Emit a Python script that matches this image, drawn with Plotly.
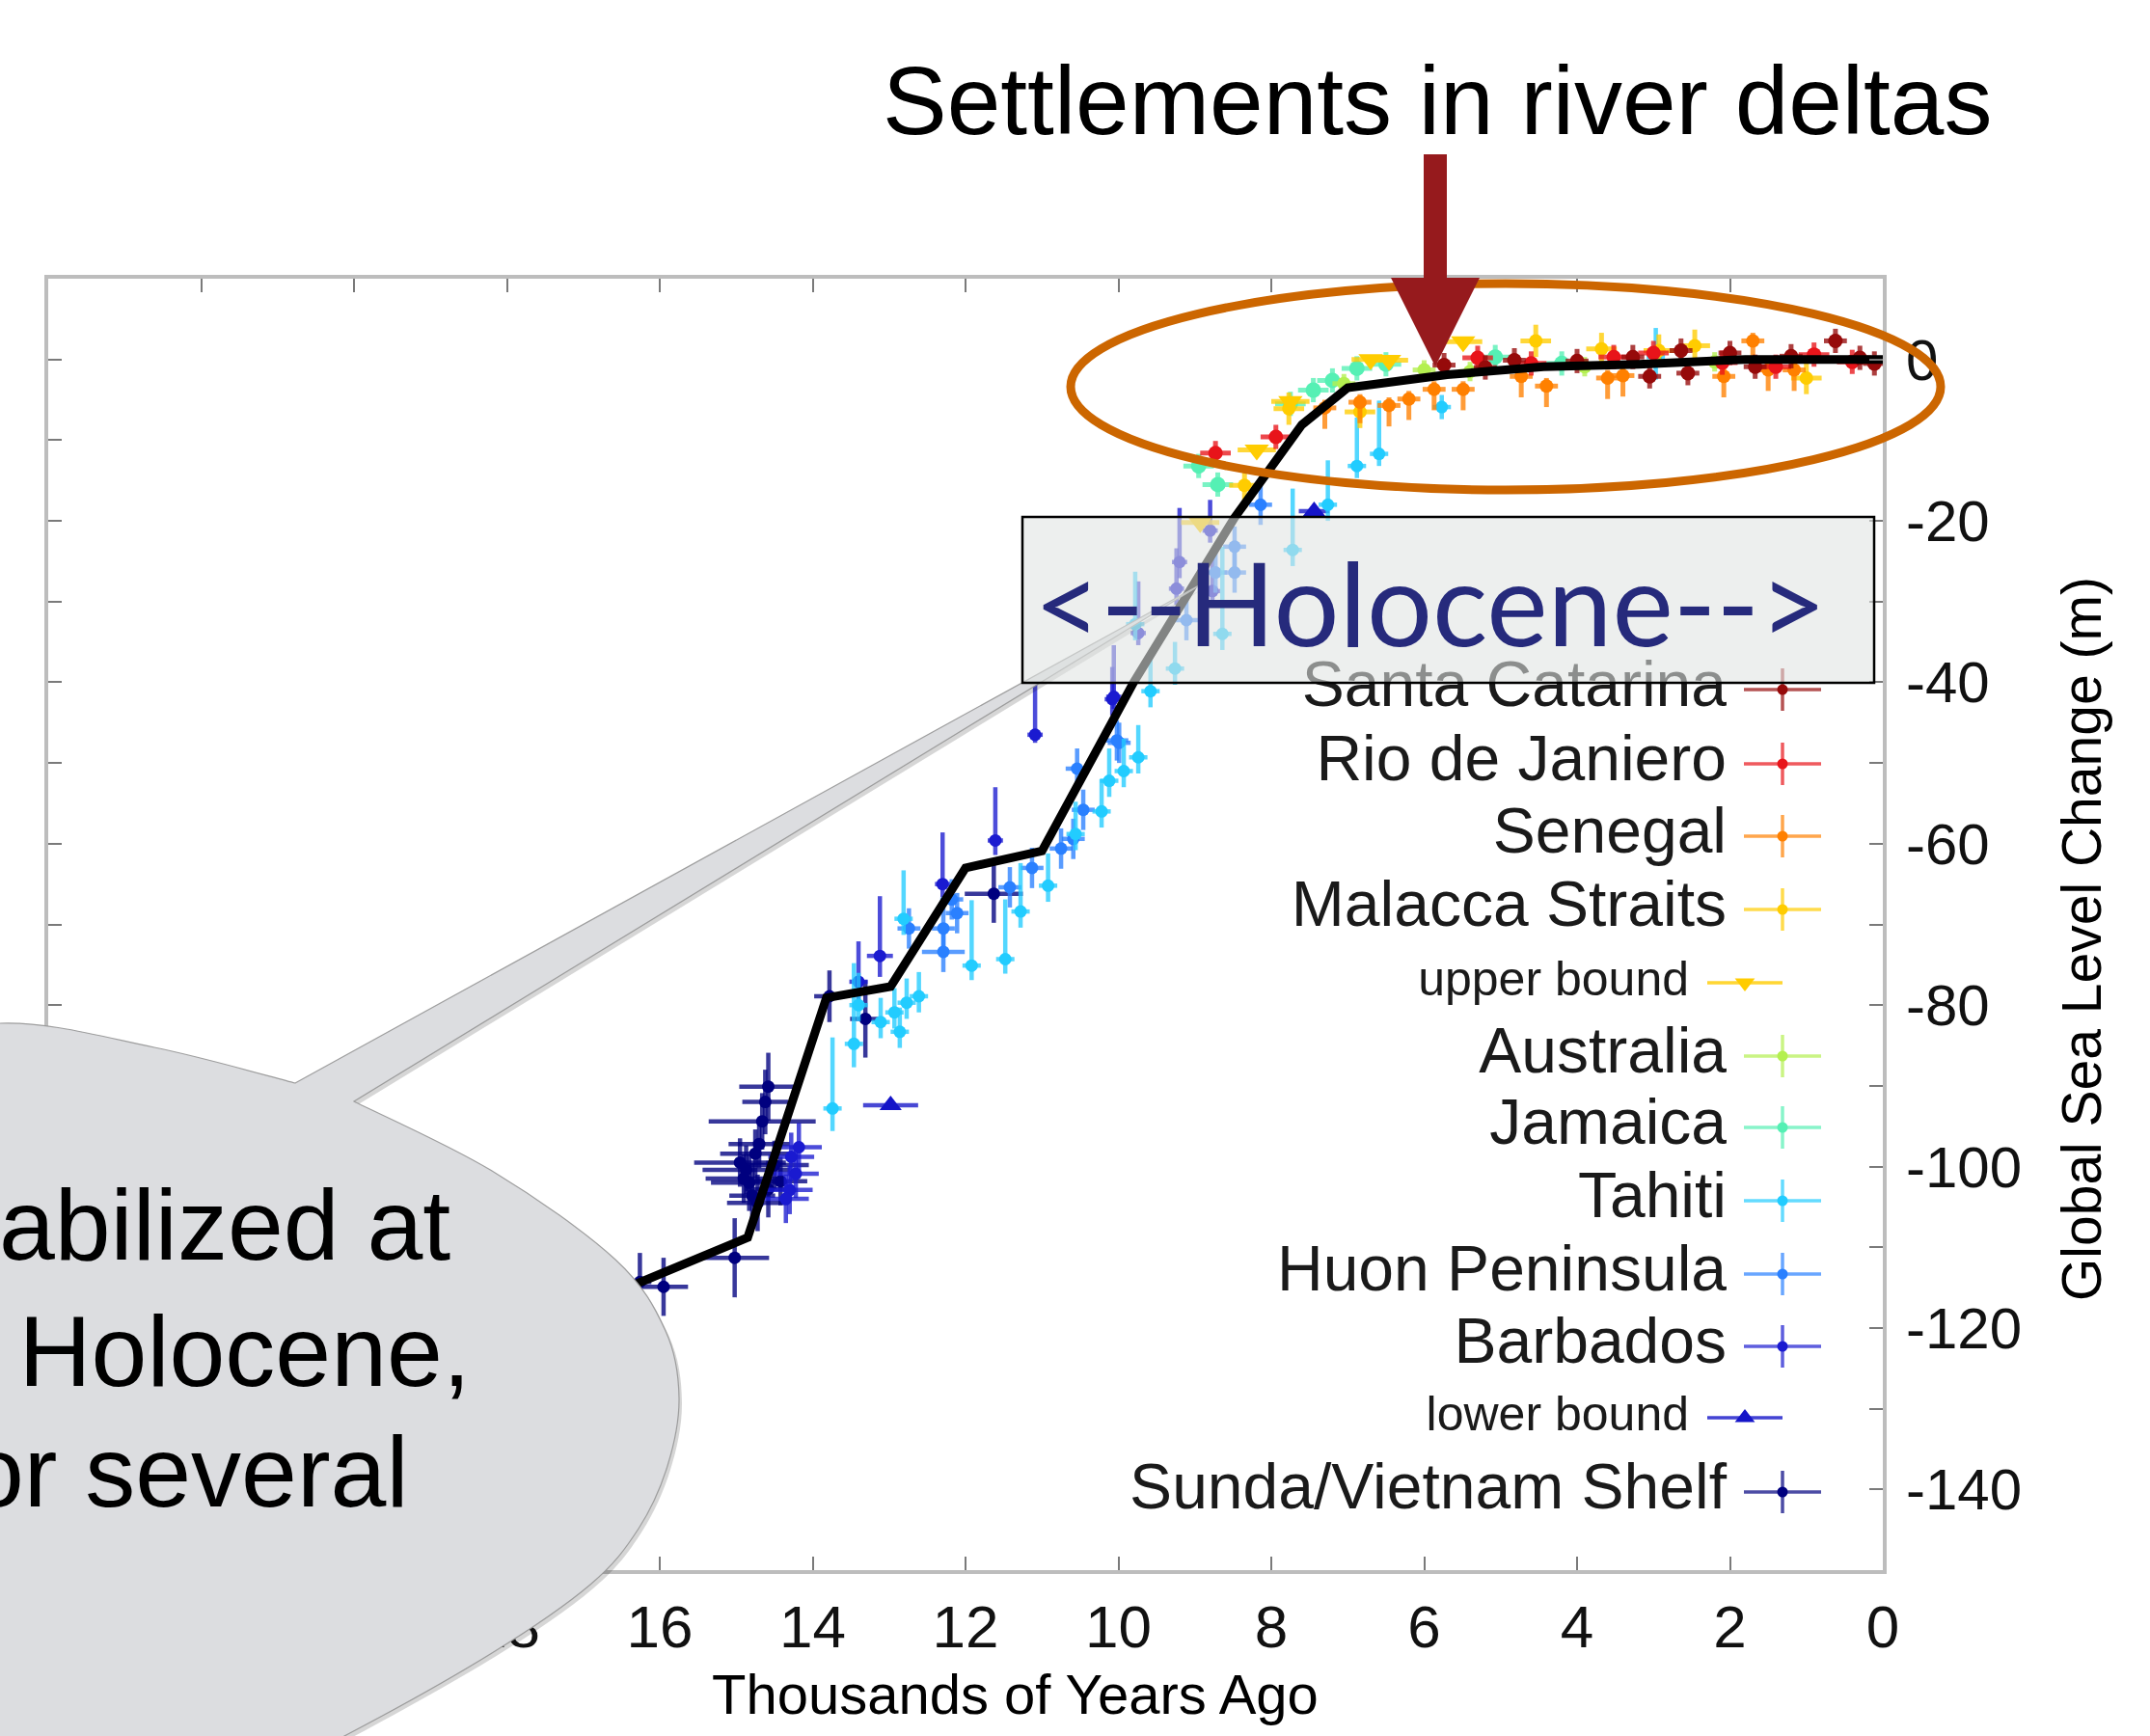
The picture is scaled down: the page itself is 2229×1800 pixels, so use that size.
import plotly.graph_objects as go

W, H = 2229, 1800
FONT = "Liberation Sans, Arial, Helvetica, sans-serif"

# ---------------- data ----------------
curve_kyr = [24.0, 22.0, 20.0, 18.0, 16.35, 14.85, 13.82, 12.98, 12.0, 11.0, 9.8, 8.48, 7.6, 7.0, 5.7, 4.44, 3.2, 1.8, 0.0]
curve_m = [-121, -121, -120, -118, -114.7, -108.8, -79.1, -77.7, -63.0, -60.9, -40.0, -19.6, -8.1, -3.5, -1.9, -0.9, -0.6, 0.0, 0.0]

sunda_x = [16.26, 15.95, 15.02, 14.58, 14.66, 14.75, 14.87, 14.83, 14.79, 14.62, 14.70, 14.58, 13.78, 13.31, 11.63,
           14.95, 14.90, 14.72, 14.50, 14.42]
sunda_y = [-114.3, -114.9, -111.3, -90.1, -94.4, -98.4, -100.4, -102.0, -103.6, -92.0, -97.2, -102.8, -78.9, -81.7, -66.2,
           -99.5, -101.5, -104.5, -99.8, -101.8]
sunda_ex = [0.15, 0.32, 0.45, 0.38, 0.7, 0.46, 0.57, 0.5, 0.3, 0.3, 0.4, 0.3, 0.2, 0.2, 0.38,
            0.6, 0.5, 0.4, 0.45, 0.35]
sunda_ey = [3.6, 3.6, 4.9, 4.2, 3.5, 3.0, 3.0, 3.5, 4.0, 4.0, 3.0, 3.5, 3.2, 4.8, 3.6,
            3.0, 3.0, 3.5, 3.0, 3.0]

barb_x = [14.28, 14.22, 14.30, 13.40, 13.12, 12.30, 11.61, 11.09, 10.08, 10.06, 9.74, 9.24, 9.20, 8.77, 8.80, 14.18, 14.35]
barb_y = [-98.8, -100.9, -102.9, -77.1, -73.9, -65.0, -59.6, -46.5, -42.1, -41.8, -33.9, -28.4, -25.1, -28.7, -21.2, -97.6, -104.0]
barb_ex = [0.3, 0.3, 0.3, 0.12, 0.17, 0.1, 0.1, 0.1, 0.1, 0.1, 0.1, 0.1, 0.1, 0.1, 0.1, 0.3, 0.3]
barb_eyp = [3, 3, 3, 5, 7.4, 6.4, 6.6, 6.2, 4, 6.4, 6.4, 5, 6.7, 4, 3.8, 3, 3]
barb_eym = [3, 3, 3, 3, 2.6, 1.6, 1.8, 1.0, 2, 1.5, 1.5, 2, 2, 2, 1.5, 3, 3]

huon_x = [12.29, 12.29, 12.18, 12.11, 12.74, 11.42, 11.13, 10.75, 10.59, 10.46, 10.54, 10.02, 9.99, 9.11, 8.73, 8.48, 8.48, 8.14]
huon_y = [-73.4, -70.5, -66.9, -68.6, -70.5, -65.4, -63.0, -60.6, -59.4, -55.8, -50.7, -47.2, -47.5, -32.3, -26.4, -26.4, -23.2, -18.0]
huon_ex = [0.28, 0.15, 0.15, 0.15, 0.15, 0.15, 0.15, 0.15, 0.15, 0.15, 0.15, 0.15, 0.15, 0.15, 0.15, 0.15, 0.15, 0.15]
huon_ey = [2.5] * 18

tahiti_x = [13.74, 13.46, 13.40, 13.11, 12.93, 12.86, 12.77, 12.61, 12.81, 11.92, 11.48, 11.28, 10.92, 10.56, 10.22, 10.12, 9.93, 9.74, 9.58, 9.26, 9.78, 8.64, 7.72, 7.26, 6.88, 6.59, 5.77, 2.97]
tahiti_y = [-92.8, -84.8, -80.0, -82.1, -80.9, -83.3, -79.7, -78.9, -69.3, -75.1, -74.3, -68.4, -65.2, -58.8, -56.0, -52.2, -51.0, -49.3, -41.1, -38.3, -32.8, -34.0, -23.6, -18.0, -13.2, -11.7, -5.9, 0.3]
tahiti_eyp = [8.8, 10, 4, 3, 3, 3, 3, 3, 6, 8.1, 7.4, 6, 4, 4, 4, 4, 4, 4, 5, 3.3, 6.5, 10.8, 7.6, 5.5, 6.0, 6.6, 1.5, 3.6]
tahiti_eym = [2.8, 2.9, 2, 2, 2, 2, 2, 2, 2, 1.8, 1.8, 2, 2, 2, 2, 2, 2, 2, 2, 2, 2, 2, 2, 2, 1.5, 1.5, 1.5, 2.8]
tahiti_ex = [0.12] * 28

jam_x = [8.95, 8.70, 7.75, 7.45, 7.20, 6.88, 6.50, 5.07, 4.20]
jam_y = [-13.2, -15.5, -5.5, -3.8, -2.6, -1.1, -0.6, 0.3, -0.5]

aus_x = [7.05, 6.00, 5.40, 3.90, 2.20]
aus_y = [-3.0, -1.3, -1.5, -0.9, -0.3]

mal_x = [8.35, 7.77, 6.84, 4.54, 3.68, 2.93, 2.46, 1.00]
mal_y = [-15.6, -6.1, -6.5, 2.3, 1.3, 1.1, 1.7, -2.3]

ub_x = [8.93, 8.19, 7.75, 6.70, 6.46, 5.49]
ub_y = [-20.2, -11.2, -5.2, 0.0, -0.1, 2.2]

lb_x = [12.98, 7.44]
lb_y = [-92.4, -18.8]
lb_ex = [0.36, 0.2]

sen_x = [7.30, 6.84, 6.46, 6.20, 5.87, 5.49, 4.73, 4.40, 3.60, 3.40, 2.08, 1.70, 1.50, 1.16]
sen_y = [-6.0, -5.3, -5.7, -4.9, -3.7, -3.7, -2.1, -3.3, -2.3, -2.0, -2.1, 2.3, -1.3, -1.3]

sc_x = [5.74, 5.20, 4.82, 4.00, 3.27, 3.05, 2.64, 2.55, 2.00, 1.67, 1.20, 0.62, 0.30, 0.11]
sc_y = [-0.7, -1.0, -0.1, -0.2, 0.3, -2.1, 1.1, -1.7, 0.8, -0.9, 0.4, 2.3, 0.2, -0.5]

rio_x = [8.73, 7.94, 5.30, 4.60, 3.52, 3.00, 2.10, 1.40, 0.90, 0.40]
rio_y = [-11.6, -9.6, 0.2, -0.5, 0.3, 0.8, -0.4, -0.9, 0.6, -0.3]

x_ticks = list(range(0, 25, 2))
y_ticks = list(range(-150, 11, 10))
y_labels = [("%d" % v) if (v % 20 == 0 and -140 <= v <= 0) else "" for v in y_ticks]

legend_names = ["Santa Catarina", "Rio de Janiero", "Senegal", "Malacca Straits", "upper bound", "Australia",
                "Jamaica", "Tahiti", "Huon Peninsula", "Barbados", "lower bound", "Sunda/Vietnam Shelf"]
legend_colors = ["#960a0a", "#e8141a", "#ff8000", "#ffcc00", "#ffcc00", "#b4f050",
                 "#55f0b4", "#22ccff", "#2a80ff", "#1a1ad0", "#1414c8", "#00007f"]

# ---------------- helpers ----------------
def rgba(hexc, a):
    h = hexc.lstrip('#')
    return "rgba(%d,%d,%d,%.2f)" % (int(h[0:2], 16), int(h[2:4], 16), int(h[4:6], 16), a)

COL = dict(zip(legend_names, legend_colors))

fig = go.Figure()

def add_series(name, xs, ys, ex, eyp, eym, symbol="circle", size=13, thick=4.5):
    c = COL[name]
    n = len(xs)
    if not isinstance(ex, list):
        ex = [ex] * n
    if not isinstance(eyp, list):
        eyp = [eyp] * n
    if not isinstance(eym, list):
        eym = [eym] * n
    fig.add_trace(go.Scatter(
        x=xs, y=ys, mode="markers", name=name, showlegend=False,
        marker=dict(color=c, size=size, symbol=symbol, line=dict(width=0)),
        error_x=dict(type="data", array=ex, color=rgba(c, 0.78), thickness=thick, width=0),
        error_y=dict(type="data", array=eyp, arrayminus=eym, symmetric=False,
                     color=rgba(c, 0.78), thickness=thick, width=0),
        xaxis="x", yaxis="y"))

add_series("Sunda/Vietnam Shelf", sunda_x, sunda_y, sunda_ex, sunda_ey, sunda_ey)
add_series("lower bound", lb_x, lb_y, lb_ex, 0, 0, symbol="triangle-up", size=20)
add_series("Barbados", barb_x, barb_y, barb_ex, barb_eyp, barb_eym)
add_series("Huon Peninsula", huon_x, huon_y, huon_ex, huon_ey, huon_ey)
add_series("Tahiti", tahiti_x, tahiti_y, tahiti_ex, tahiti_eyp, tahiti_eym)
add_series("Jamaica", jam_x, jam_y, 0.2, 1.5, 1.5, size=16, thick=5)
add_series("Australia", aus_x, aus_y, 0.15, 1.2, 1.2, size=14, thick=5)
add_series("upper bound", ub_x, ub_y, 0.25, 0, 0, symbol="triangle-down", size=22, thick=5)
add_series("Malacca Straits", mal_x, mal_y, 0.2, 2.0, 2.0, size=14, thick=5)
add_series("Senegal", sen_x, sen_y, 0.15, 1.0, 2.6, size=14, thick=5)
add_series("Rio de Janiero", rio_x, rio_y, 0.2, 1.5, 1.5, size=15, thick=5)
add_series("Santa Catarina", sc_x, sc_y, 0.15, 1.5, 1.5, size=15, thick=5)

fig.add_trace(go.Scatter(x=curve_kyr, y=curve_m, mode="lines", showlegend=False,
                         line=dict(color="black", width=9), xaxis="x", yaxis="y"))

# ---------------- manual legend (pixel overlay axes) ----------------
legend_y = [715, 792, 867, 943, 1019, 1095, 1169, 1245, 1321, 1396, 1470, 1547]
is_bound = [n.endswith("bound") for n in legend_names]
text_x = [1751 if b else 1790 for b in is_bound]
fig.add_trace(go.Scatter(
    x=text_x, y=legend_y, mode="text", text=legend_names, textposition="middle left",
    textfont=dict(family=FONT, size=[50 if b else 66 for b in is_bound], color="#1a1a1a"),
    showlegend=False, xaxis="x2", yaxis="y2", cliponaxis=False, hoverinfo="skip"))
for name, yy, b in zip(legend_names, legend_y, is_bound):
    c = COL[name]
    if b:
        sym = "triangle-down" if name.startswith("upper") else "triangle-up"
        fig.add_trace(go.Scatter(
            x=[1809], y=[yy], mode="markers", showlegend=False, xaxis="x2", yaxis="y2",
            marker=dict(color=c, size=18, symbol=sym),
            error_x=dict(type="data", array=[39], color=rgba(c, 0.8), thickness=3.5, width=0)))
    else:
        fig.add_trace(go.Scatter(
            x=[1848], y=[yy], mode="markers", showlegend=False, xaxis="x2", yaxis="y2",
            marker=dict(color=c, size=11),
            error_x=dict(type="data", array=[40], color=rgba(c, 0.7), thickness=3.5, width=0),
            error_y=dict(type="data", array=[22], color=rgba(c, 0.7), thickness=3.5, width=0)))

# ---------------- shapes ----------------
def catmull(pts):
    out = ""
    n = len(pts)
    for i in range(n - 1):
        p0 = pts[i - 1] if i > 0 else pts[i]
        p1 = pts[i]
        p2 = pts[i + 1]
        p3 = pts[i + 2] if i + 2 < n else pts[i + 1]
        c1 = (p1[0] + (p2[0] - p0[0]) / 6.0, p1[1] + (p2[1] - p0[1]) / 6.0)
        c2 = (p2[0] - (p3[0] - p1[0]) / 6.0, p2[1] - (p3[1] - p1[1]) / 6.0)
        out += " C%.1f,%.1f %.1f,%.1f %.1f,%.1f" % (c1[0], c1[1], c2[0], c2[1], p2[0], p2[1])
    return out

def bubble_path(dx=0, dy=0):
    body = [(367, 1142), (510, 1214), (638, 1306), (690, 1380), (704, 1450), (692, 1520),
            (662, 1585), (612, 1643), (510, 1714), (357, 1800), (250, 1850)]
    top = [(-300, 1220), (-140, 1098), (0, 1061), (160, 1086), (306, 1123)]
    body = [(x + dx, y + dy) for x, y in body]
    top = [(x + dx, y + dy) for x, y in top]
    p = "M%.1f,%.1f L%.1f,%.1f L%.1f,%.1f" % (306 + dx, 1123 + dy, 1252 + dx, 602 + dy, 367 + dx, 1142 + dy)
    p += catmull(body)
    p += " L%.1f,%.1f L%.1f,%.1f" % (-300 + dx, 1900 + dy, -300 + dx, 1220 + dy)
    p += catmull(top)
    p += " Z"
    return p

shapes = [
    dict(type="path", path=bubble_path(3, 4), xref="x2", yref="y2", layer="above",
         fillcolor="rgba(0,0,0,0.16)", line=dict(width=0)),
    dict(type="path", path=bubble_path(), xref="x2", yref="y2", layer="above",
         fillcolor="#dcdde0", line=dict(color="rgba(150,150,150,0.9)", width=1.2)),
    dict(type="rect", x0=1060, x1=1943, y0=536, y1=708, xref="x2", yref="y2", layer="above",
         fillcolor="rgba(224,227,225,0.58)", line=dict(color="black", width=2.5)),
    dict(type="circle", x0=1110, x1=2012, y0=294, y1=508, xref="x2", yref="y2", layer="above",
         line=dict(color="#cc6600", width=9), fillcolor="rgba(0,0,0,0)"),
    dict(type="rect", x0=1476, x1=1500, y0=160, y1=292, xref="x2", yref="y2", layer="above",
         fillcolor="#961a1d", line=dict(width=0)),
    dict(type="path", path="M1442,288 L1534,288 L1488,380 Z", xref="x2", yref="y2", layer="above",
         fillcolor="#961a1d", line=dict(width=0)),
]

# ---------------- annotations ----------------
def ann(text, x, y, size, color="black", family=FONT, xanchor="center", angle=0):
    return dict(text=text, x=x, y=y, xref="x2", yref="y2", showarrow=False, xanchor=xanchor,
                yanchor="middle", textangle=angle, font=dict(family=family, size=size, color=color))

annotations = [
    ann("Settlements in river deltas", 1490, 104, 100),
    ann("&lt;--Holocene--&gt;", 1483, 624, 120, color="#262a7c", family="Lato, Open Sans, sans-serif"),
    ann("stabilized at", 469, 1270, 104, xanchor="right"),
    ann("the Holocene,", 490, 1401, 104, xanchor="right"),
    ann("for several", 426, 1526, 104, xanchor="right"),
    ann("Thousands of Years Ago", 1052, 1756, 58),
    ann("Global Sea Level Change (m)", 2158, 974, 57, angle=-90),
]

fig.update_layout(
    width=W, height=H, autosize=False,
    margin=dict(l=0, r=0, t=0, b=0, pad=0, autoexpand=False),
    paper_bgcolor="white", plot_bgcolor="rgba(0,0,0,0)",
    showlegend=False,
    xaxis=dict(domain=[50 / W, 1952 / W], range=[24, 0], autorange=False,
               tickvals=x_ticks, ticktext=[str(v) for v in x_ticks],
               ticks="inside", ticklen=14, tickwidth=2, tickcolor="#7a7a7a",
               showline=True, linecolor="#bdbdbd", linewidth=4, mirror="ticks",
               showgrid=False, zeroline=False, automargin=False,
               tickfont=dict(family=FONT, size=62, color="#111"), ticklabelstandoff=2,
               anchor="y"),
    yaxis=dict(domain=[1 - 1628 / H, 1 - 289 / H], range=[-150, 10], autorange=False,
               side="right", tickvals=y_ticks, ticktext=y_labels,
               ticks="inside", ticklen=14, tickwidth=2, tickcolor="#7a7a7a",
               showline=True, linecolor="#bdbdbd", linewidth=4, mirror="ticks",
               showgrid=False, zeroline=False, automargin=False,
               tickfont=dict(family=FONT, size=60, color="#111"), ticklabelstandoff=8,
               anchor="x"),
    xaxis2=dict(domain=[0, 1], range=[0, W], autorange=False, visible=False, anchor="y2",
                showgrid=False, zeroline=False, automargin=False),
    yaxis2=dict(domain=[0, 1], range=[H, 0], autorange=False, visible=False, anchor="x2",
                showgrid=False, zeroline=False, automargin=False),
    shapes=shapes,
    annotations=annotations,
)

fig.write_html("out.html", config={"displayModeBar": False},
               post_script="document.body.style.margin='0px';document.body.style.padding='0px';")
